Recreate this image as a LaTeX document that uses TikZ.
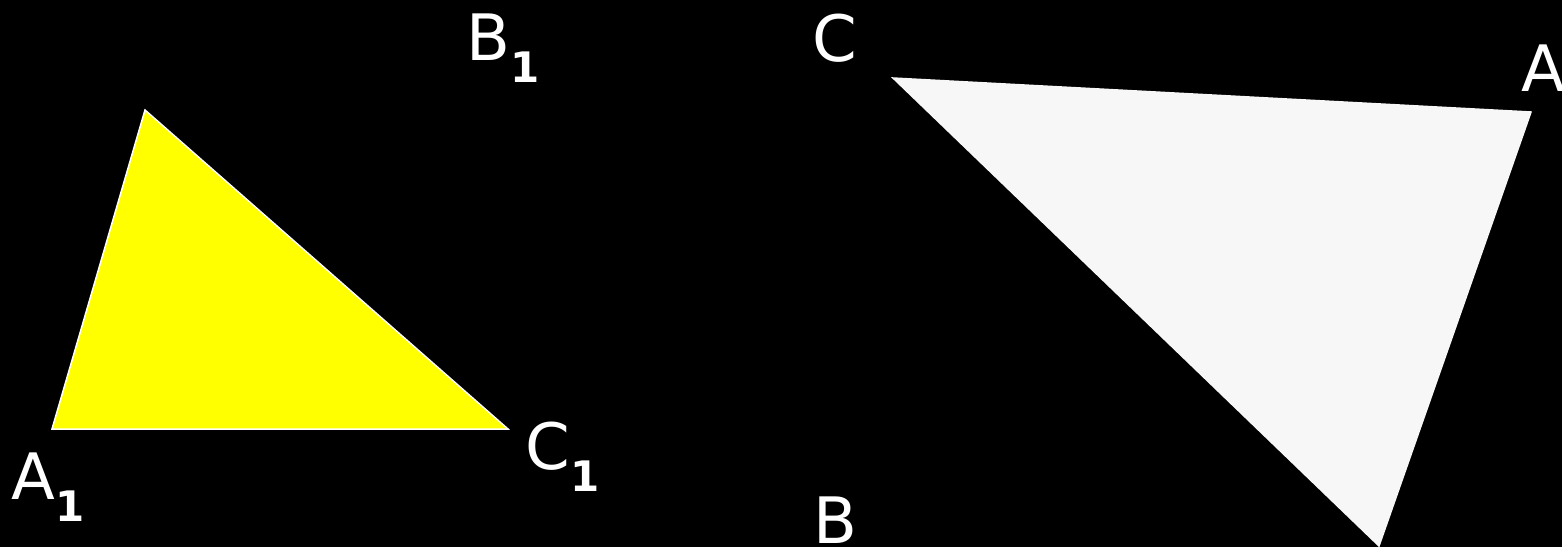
\documentclass[tikz,border=0pt]{standalone}
\usepackage{fontspec}
\setmainfont{DejaVu Sans}
\definecolor{triyellow}{RGB}{255,255,0}
\definecolor{trigray}{RGB}{247,247,247}
\newcommand{\vsub}[1]{\kern0.5pt\raisebox{-22pt}{\fontsize{42}{42}\selectfont\bfseries #1}}

\begin{document}
\begin{tikzpicture}[
      x=1pt, y=-1pt,
      every node/.style={font=\fontsize{64}{64}\selectfont, text=white},
      lbl/.style={anchor=base west, inner sep=0pt},
      tri/.style={draw=white, line width=1.5pt, line join=miter},
    ]
    % background and frame
    \fill[black] (0,0) rectangle (1562,547);
    \useasboundingbox (0,0) rectangle (1562,547);

    % vertices of the two triangles
    \coordinate (a1) at (52,429);
    \coordinate (b1) at (145,110);
    \coordinate (c1) at (508,429);
    \coordinate (c) at (893,78);
    \coordinate (a) at (1531,112);
    \coordinate (b) at (1379,546);

    \draw[tri, fill=triyellow] (a1) -- (b1) -- (c1) -- cycle;
    \draw[tri, draw=trigray, fill=trigray] (c) -- (a) -- (b) -- cycle;

    % labels
    \node[lbl] (la1) at (11,499) {A\vsub{1}};
    \node[lbl] (lb1) at (466,60) {B\vsub{1}};
    \node[lbl] (lc1) at (525,469) {C\vsub{1}};
    \node[lbl] (lc) at (812,61) {C};
    \node[lbl] (la) at (1521,91) {A};
    \node[lbl] (lb) at (813,543) {B};
  \end{tikzpicture}
\end{document}
